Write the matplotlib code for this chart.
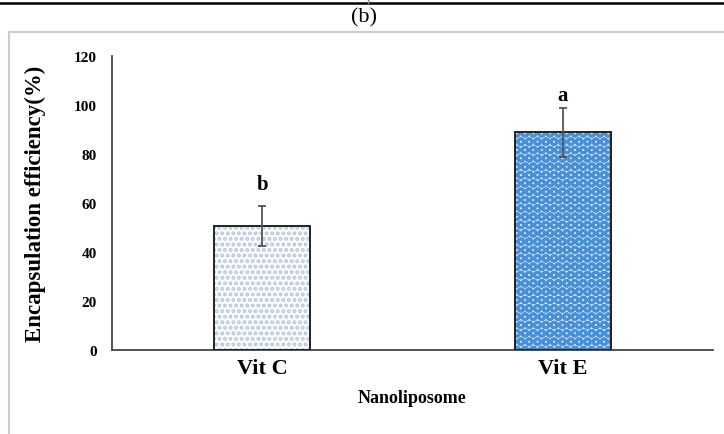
import numpy as np
import matplotlib
matplotlib.use("Agg")
import matplotlib.pyplot as plt
from matplotlib.lines import Line2D

categories = ["Vit C", "Vit E"]
efficiency = [50.5, 88.8]
errors = [8.2, 10.0]
letters = ["b", "a"]

plt.rcParams["font.family"] = ["Liberation Serif", "DejaVu Serif"]
plt.rcParams["hatch.linewidth"] = 2.0

fig = plt.figure(figsize=(7.24, 4.35), dpi=100)
ax = fig.add_axes([0.1547, 0.193, 0.8301, 0.676])

x = np.arange(len(categories))
w = 0.32
fills = [dict(face="white", hatch="...", hc="#b3c6dc"),
         dict(face="#d4e6f8", hatch="OO", hc="#4a90d8")]
for i, f in enumerate(fills):
    ax.bar(x[i], efficiency[i], w, color=f["face"], hatch=f["hatch"],
           edgecolor=f["hc"], lw=0, zorder=2)
    ax.bar(x[i], efficiency[i], w, fill=False, edgecolor="#222222", lw=1.4, zorder=3)
ax.errorbar(x, efficiency, yerr=errors, fmt="none", ecolor="#555555",
            elinewidth=1.3, capsize=3, capthick=1.3, zorder=4)

offs = [9, 2]
for i, t in enumerate(letters):
    ax.annotate(t, (x[i], efficiency[i] + errors[i]), xytext=(0, offs[i]),
                textcoords="offset points", ha="center", va="bottom",
                fontsize=15, fontweight="bold")

ax.set_xlim(-0.5, 1.5)
ax.set_ylim(0, 120)
ax.set_yticks(range(0, 121, 20))
ax.set_xticks(x)
ax.set_xticklabels(categories, fontsize=16, fontweight="bold")
for lab in ax.get_yticklabels():
    lab.set_fontweight("bold"); lab.set_fontsize(11)
ax.tick_params(axis="both", length=0)
ax.tick_params(axis="y", pad=11)
ax.tick_params(axis="x", pad=6)
for s in ["top", "right"]:
    ax.spines[s].set_visible(False)
for s in ["left", "bottom"]:
    ax.spines[s].set_color("#444444"); ax.spines[s].set_linewidth(1.3)
ax.set_ylabel("Encapsulation efficiency(%)", fontsize=16.5, fontweight="bold", labelpad=20)
ax.set_xlabel("Nanoliposome", fontsize=13, fontweight="bold", labelpad=8)

# page decorations
fig.add_artist(Line2D([0, 1], [0.990, 0.990], color="black", lw=1.8))
fig.add_artist(Line2D([0.508, 0.508], [0.990, 1.0], color="#888888", lw=1))
fig.add_artist(Line2D([0.0125, 1.0], [0.924, 0.924], color="#cccccc", lw=1.5))
fig.add_artist(Line2D([0.0125, 0.0125], [0.0, 0.924], color="#cccccc", lw=1.5))
fig.text(0.503, 0.958, "(b)", ha="center", va="center", fontsize=16)

fig.savefig("out.png", dpi=100, facecolor="white")
